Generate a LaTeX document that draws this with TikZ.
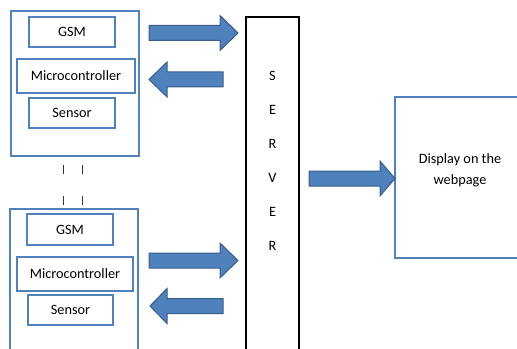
\documentclass[tikz,border=0pt]{standalone}
\usepackage{fontspec}
\setmainfont{Carlito}
\usetikzlibrary{calc}

\definecolor{boxblue}{RGB}{79,129,189}
\definecolor{edgeblue}{RGB}{56,93,138}

\newdimen\px
\px=0.75pt

% block arrow: tail x, head base x, tip x, centre y
\newcommand{\blockarrow}[4]{%
   \draw[blockarrow] (#1,#4-7.5) -- (#2,#4-7.5) -- (#2,#4-17.5) -- (#3,#4)
      -- (#2,#4+17.5) -- (#2,#4+7.5) -- (#1,#4+7.5) -- cycle;}

\tikzset{
   unitbox/.style={draw=boxblue, line width=1.5pt, inner sep=0pt},
   part/.style={draw=boxblue, line width=1.5pt, inner sep=0pt, font=\fontsize{10.7}{12.8}\selectfont},
   serverbox/.style={draw=black, line width=1.5pt, inner sep=0pt},
   blockarrow/.style={fill=boxblue, draw=edgeblue, line width=0.75pt},
   gap/.style={draw=black!80, line width=0.75pt, dash pattern=on 6.75pt off 16.5pt, dash phase=17pt}
}

\begin{document}
\begin{tikzpicture}[x=0.75pt, y=-0.75pt]

   \useasboundingbox (0,0) rectangle (517,349);
   \clip (0,0) rectangle (517,349);

   % first unit
   \node[unitbox, minimum width=128*\px, minimum height=145*\px] (unitA) at (75,83.5) {};
   \node[part, minimum width=86*\px, minimum height=30*\px] (gsmA) at (72,32) {GSM};
   \node[part, minimum width=118*\px, minimum height=34*\px] (mcuA) at (76,76) {Microcontroller};
   \node[part, minimum width=86*\px, minimum height=30*\px] (senA) at (72,113) {Sensor};

   % second unit
   \node[unitbox, minimum width=128*\px, minimum height=160*\px] (unitB) at (74,289) {};
   \node[part, minimum width=86*\px, minimum height=31*\px] (gsmB) at (70,229.5) {GSM};
   \node[part, minimum width=116*\px, minimum height=34*\px] (mcuB) at (75,274) {Microcontroller};
   \node[part, minimum width=85*\px, minimum height=30*\px] (senB) at (70.5,310) {Sensor};

   % more units in between
   \draw[gap] ($(unitA.south)+(-12,0)$) -- ($(unitA.south)+(-12,52)$);
   \draw[gap] ($(unitA.south)+(7,0)$) -- ($(unitA.south)+(7,52)$);

   % server
   \node[serverbox, minimum width=53*\px, minimum height=360*\px] (server) at (272.5,197) {};
   \node[font=\fontsize{10.7}{12}\selectfont, align=center, inner sep=0pt] (srvtxt) at (272.5,161)
      {S\\[13.5pt]E\\[13.5pt]R\\[13.5pt]V\\[13.5pt]E\\[13.5pt]R};

   % webpage
   \node[unitbox, minimum width=130*\px, minimum height=161*\px] (web) at (460,177.5) {};
   \node[font=\fontsize{10.7}{12}\selectfont, align=center, inner sep=0pt] (webtxt) at (460,170.5)
      {Display on the\\[3.75pt]webpage};

   % arrows
   \blockarrow{149}{220}{238}{33}
   \blockarrow{223}{167}{149}{79.5}
   \blockarrow{149}{220}{238}{260.5}
   \blockarrow{223}{167}{150}{306}
   \blockarrow{309}{380}{395}{178.5}

\end{tikzpicture}
\end{document}
